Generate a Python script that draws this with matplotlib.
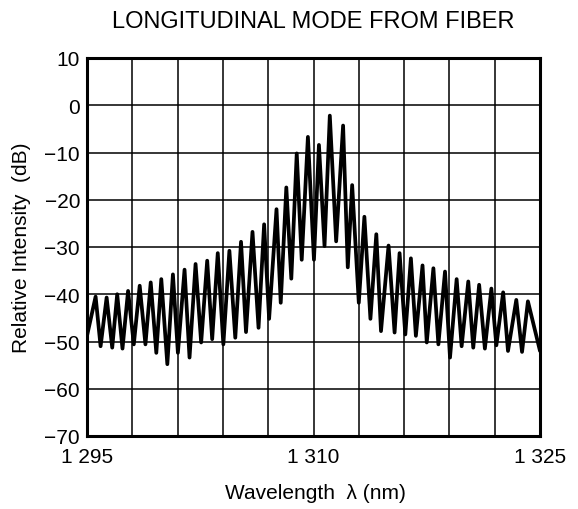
import matplotlib
matplotlib.use("Agg")
import matplotlib.pyplot as plt

# extrema of the mode spectrum (alternating trough / peak)
wavelength = [
    1295.0, 1295.57, 1295.90, 1296.30, 1296.67, 1297.0, 1297.35, 1297.72, 1298.1,
    1298.49, 1298.87, 1299.22, 1299.59, 1299.92, 1300.32, 1300.69, 1301.02, 1301.46,
    1301.79, 1302.19, 1302.56, 1302.96, 1303.29, 1303.66, 1304.03, 1304.43,
    1304.82, 1305.2, 1305.53, 1305.96, 1306.36, 1306.73, 1307.06, 1307.55, 1307.83,
    1308.2, 1308.53, 1308.89, 1309.22, 1309.63, 1310.03, 1310.36, 1310.73, 1311.08,
    1311.5, 1311.96, 1312.27, 1312.56, 1313.0, 1313.37, 1313.77, 1314.16, 1314.47,
    1314.97, 1315.37, 1315.7, 1316.08, 1316.45, 1316.78, 1317.22, 1317.5, 1317.94,
    1318.27, 1318.71, 1319.04, 1319.48, 1319.81, 1320.25, 1320.58, 1320.97, 1321.35,
    1321.78, 1322.11, 1322.56, 1322.88, 1323.43, 1323.81, 1324.2, 1325.0,
]
intensity_db = [
    -48.8, -40.5, -51.0, -40.7, -51.3, -40.0, -51.5, -39.3, -50.6,
    -38.2, -50.6, -37.5, -52.4, -36.8, -54.8, -35.8, -52.4, -34.8,
    -53.4, -33.6, -50.2, -32.9, -49.5, -31.3, -50.6, -30.8,
    -49.2, -28.9, -48.0, -26.8, -47.1, -25.2, -45.2, -22.0, -41.8,
    -17.4, -36.7, -10.2, -32.7, -6.7, -32.7, -8.4, -29.8, -2.2,
    -28.8, -4.3, -34.3, -16.9, -41.8, -23.6, -45.2, -27.3, -47.8,
    -29.7, -48.1, -31.3, -48.5, -32.4, -48.8, -33.9, -50.2, -34.5,
    -50.6, -35.2, -53.4, -36.8, -51.0, -37.3, -51.3, -38.0, -51.5,
    -38.8, -50.8, -39.6, -52.0, -41.2, -52.2, -41.5, -52.0,
]

x_ticks = [1295, 1310, 1325]
x_tick_labels = ["1 295", "1 310", "1 325"]
x_grid = list(range(1295, 1326, 3))
y_ticks = list(range(-70, 11, 10))

plt.rcParams["font.family"] = ["Liberation Sans", "DejaVu Sans"]

fig = plt.figure(figsize=(5.78, 5.10), dpi=100)
ax = fig.add_axes([87 / 578, 1 - 437 / 510, 453 / 578, 378 / 510])

# grid
for gx in x_grid:
    ax.axvline(gx, color="black", lw=1.1, zorder=1)
for gy in y_ticks:
    ax.axhline(gy, color="black", lw=1.1, zorder=1)

ax.plot(wavelength, intensity_db, color="black", lw=2.7,
        solid_joinstyle="round", solid_capstyle="round", zorder=3)

ax.set_xlim(1295, 1325)
ax.set_ylim(-70, 10)
ax.set_xticks(x_ticks)
ax.set_xticklabels(x_tick_labels)
ax.set_yticks(y_ticks)
ax.set_yticklabels([str(v).replace("-", "\u2212") for v in y_ticks])
ax.tick_params(axis="both", length=0, labelsize=15)
ax.tick_params(axis="x", pad=8)
ax.tick_params(axis="y", pad=5)
for s in ax.spines.values():
    s.set_linewidth(2.2)
    s.set_zorder(4)

fig.text(313 / 578, 1 - 22 / 510, "LONGITUDINAL MODE FROM FIBER",
         ha="center", va="center", fontsize=17)
fig.text(315 / 578, 1 - 494 / 510, "Wavelength  \u03bb (nm)",
         ha="center", va="center", fontsize=15)
fig.text(22 / 578, 1 - 248 / 510, "Relative Intensity  (dB)",
         ha="center", va="center", rotation=90, fontsize=15)

fig.savefig("out.png", dpi=100)
